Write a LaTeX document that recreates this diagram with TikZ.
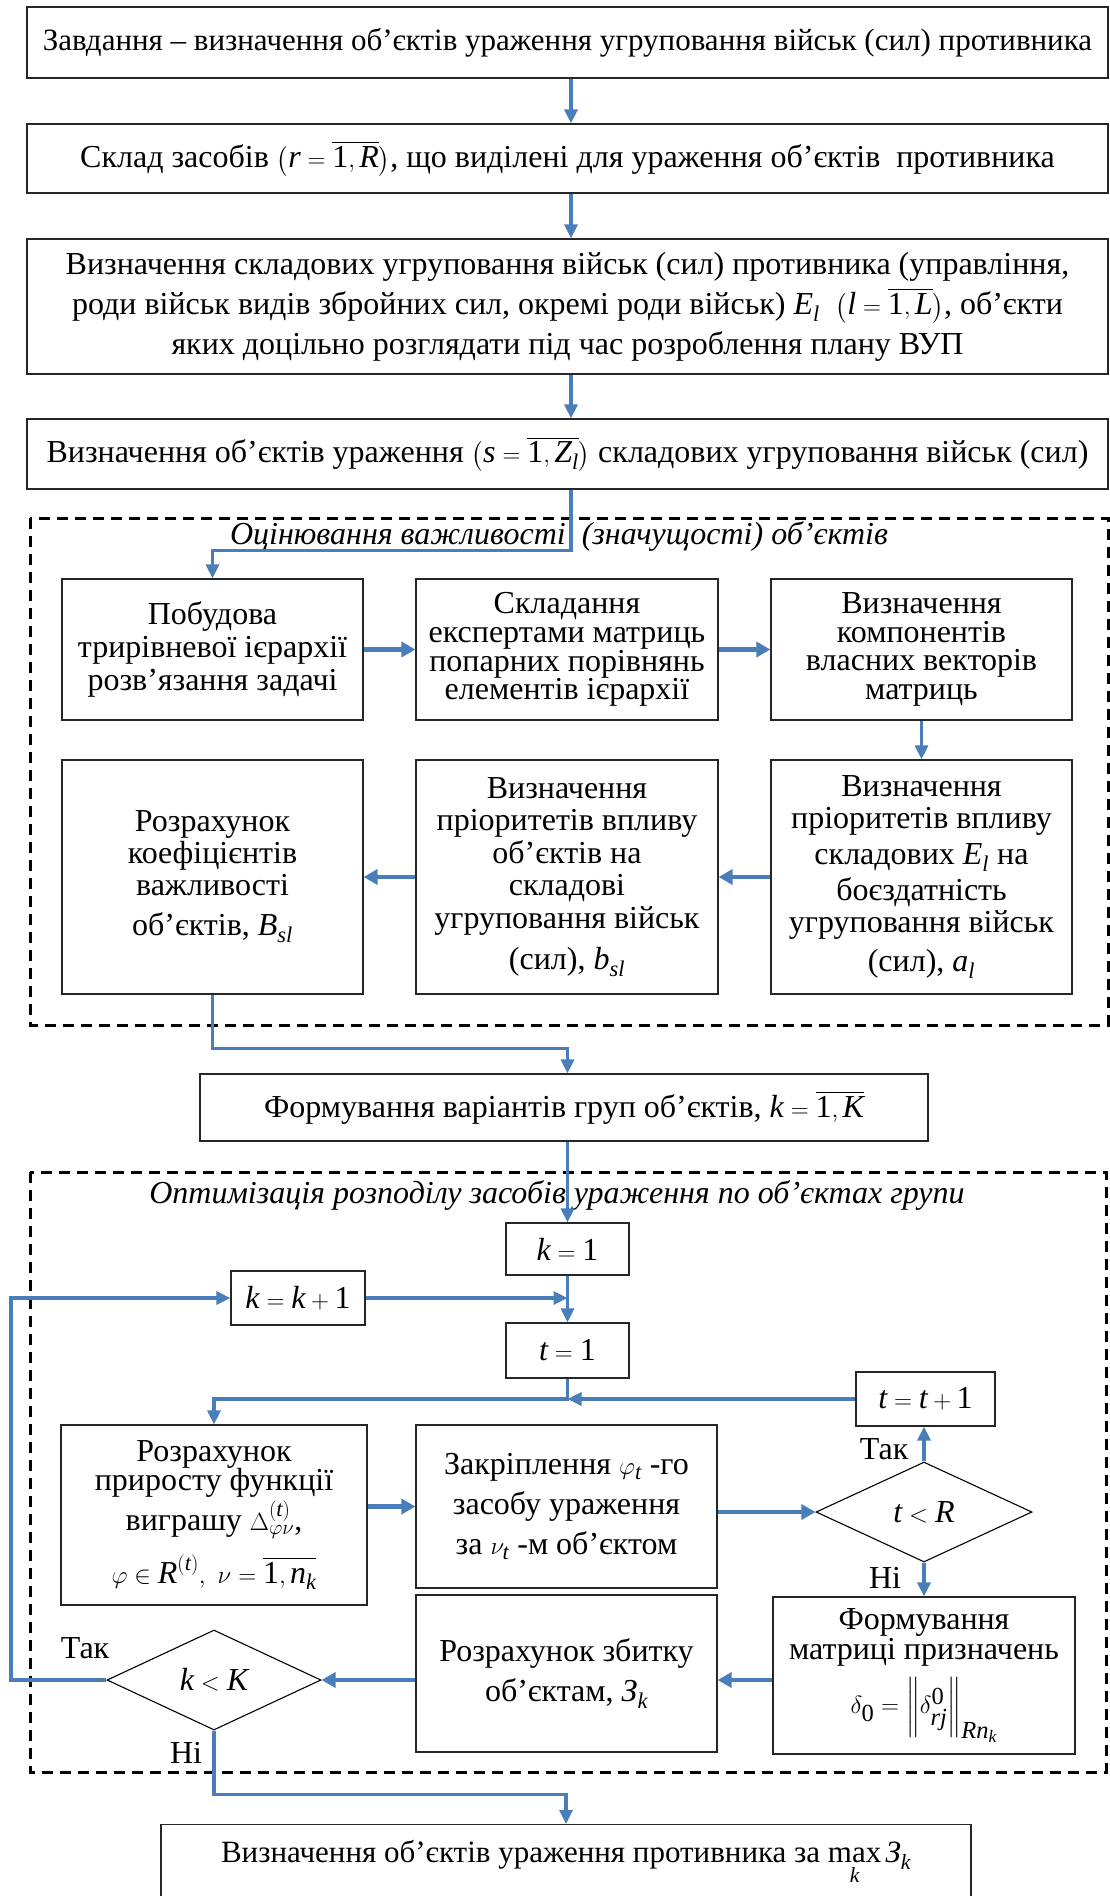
\documentclass[tikz,border=0pt]{standalone}
\usepackage{amsmath}
\usepackage{fontspec}
\setmainfont{Liberation Serif}
\usetikzlibrary{arrows.meta,shapes.geometric}
\definecolor{flow}{RGB}{74,126,187}
\newcommand{\vi}[1]{\textit{#1}}
\newcommand{\vu}[1]{\textup{#1}}
% font size and exact line pitch for node texts
\newcommand{\fsz}[2]{\fontsize{#1}{#2}\selectfont\lineskiplimit=-100pt\relax}
\begin{document}
\begin{tikzpicture}[x=1pt,y=-1pt,
  box/.style={draw=black!85,line width=1.2pt,align=center,inner sep=0pt,
    font=\fsz{32}{33}},
  dia/.style={draw=black,line width=1.1pt,diamond,inner sep=0pt,
    font=\fsz{32}{33}},
  lbl/.style={inner sep=0pt,font=\fsz{32}{33}},
  ttl/.style={inner sep=0pt,font=\fsz{32}{33}\itshape},
  arr/.style={draw=flow,line width=3.2pt,-{Triangle[length=14pt,width=13pt]}},
  arrthick/.style={draw=flow,line width=4.5pt,-{Triangle[length=14pt,width=15pt]}},
  frame/.style={draw=black,line width=3pt,dash pattern=on 11pt off 7pt}]
\useasboundingbox (0,0) rectangle (1110,1896);
\fill[white] (0,0) rectangle (1110,1896);

% upper chain of steps
\node[box,minimum width=1081pt,minimum height=71pt,font=\fsz{31}{33}] (b1) at (567.5,42.5)
  {Завдання – визначення об’єктів ураження угруповання військ (сил) противника};
\node[box,minimum width=1081pt,minimum height=69pt] (b2) at (567.5,158.5)
  {Склад засобів $\bigl(\vi{r}=\overline{\vu{1},\vi{R}}\bigr)$, що виділені для ураження об’єктів\ \ противника};
\node[box,minimum width=1081pt,minimum height=135pt,font=\fsz{32}{40}] (b3) at (567.5,306.5)
  {Визначення складових угруповання військ (сил) противника (управління,\\
   роди військ видів збройних сил, окремі роди військ) $\vi{E}_{\vi{l}}$\ \ $\bigl(\vi{l}=\overline{\vu{1},\vi{L}}\bigr)$, об’єкти\\
   яких доцільно розглядати під час розроблення плану ВУП};
\node[box,minimum width=1081pt,minimum height=70pt] (b4) at (567.5,454)
  {Визначення об’єктів ураження $\bigl(\vi{s}=\overline{\vu{1},\vi{Z}_{\vi{l}}}\bigr)$ складових угруповання військ (сил)};

% importance estimation block
\draw[frame] (30,518) rectangle (1108,1025);
\node[ttl] (t1ttl) at (559,536) {Оцінювання важливості\ \ (значущості) об’єктів};

\node[box,minimum width=301pt,minimum height=141pt,font=\fsz{32}{33}] (A1) at (212.5,649.5)
  {Побудова\\трирівневої ієрархії\\розв’язання задачі};
\node[box,minimum width=302pt,minimum height=141pt,font=\fsz{32}{28.7}] (B1) at (567,649.5)
  {Складання\\експертами матриць\\попарних порівнянь\\елементів ієрархії};
\node[box,minimum width=301pt,minimum height=141pt,font=\fsz{32}{28.7}] (C1) at (921.5,649.5)
  {Визначення\\компонентів\\власних векторів\\матриць};
\node[box,minimum width=301pt,minimum height=234pt,font=\fsz{32}{32}] (A2) at (212.5,877)
  {Розрахунок\\коефіцієнтів\\важливості\\[8pt]об’єктів, $\vi{B}_{\vi{sl}}$};
\node[box,minimum width=302pt,minimum height=234pt,font=\fsz{32}{32.5}] (B2) at (567,877)
  {Визначення\\пріоритетів впливу\\об’єктів на\\складові\\угруповання військ\\[9pt](сил), $\vi{b}_{\vi{sl}}$};
\node[box,minimum width=301pt,minimum height=234pt,font=\fsz{32}{32}] (C2) at (921.5,877)
  {Визначення\\пріоритетів впливу\\[4pt]складових $\vi{E}_{\vi{l}}$ на\\[4pt]боєздатність\\угруповання військ\\[7pt](сил), $\vi{a}_{\vi{l}}$};

\node[box,minimum width=728pt,minimum height=67pt] (F) at (564,1107.5)
  {Формування варіантів груп об’єктів, $\vi{k}=\overline{\vu{1},\vi{K}}$};

% optimisation block
\draw[frame] (30,1172) rectangle (1106,1772);
\node[ttl] (t2ttl) at (557,1195) {Оптимізація розподілу засобів ураження по об’єктах групи};

\node[box,minimum width=123pt,minimum height=52pt] (k1) at (567.5,1249) {$\vi{k}=\vu{1}$};
\node[box,minimum width=134pt,minimum height=54pt] (kk1) at (298,1298) {$\vi{k}=\vi{k}+\vu{1}$};
\node[box,minimum width=123pt,minimum height=55pt] (t1) at (567.5,1350.5) {$\vi{t}=\vu{1}$};
\node[box,minimum width=139pt,minimum height=54pt] (tt1) at (925.5,1399) {$\vi{t}=\vi{t}+\vu{1}$};

\node[box,minimum width=306pt,minimum height=180pt,font=\fsz{32}{29}] (D1) at (214,1515)
  {Розрахунок\\приросту функції\\[11pt]виграшу $\Delta^{(\vi{t})}_{\varphi\nu}$,\\[24pt]
   $\varphi\in\vi{R}^{(\vi{t})},\ \nu=\overline{\vu{1},\vi{n}_{\vi{k}}}$};
\node[box,minimum width=301pt,minimum height=163pt,font=\fsz{32}{40}] (D2) at (566.5,1506.5)
  {Закріплення $\varphi_{\vi{t}}$ -го\\засобу ураження\\за $\nu_{\vi{t}}$ -м об’єктом};
\node[dia,minimum width=216pt,minimum height=100pt] (tR) at (924,1512) {$\vi{t}<\vi{R}$};

\node[box,minimum width=302pt,minimum height=157pt,font=\fsz{32}{30}] (F2) at (924,1675.5)
  {Формування\\матриці призначень\\[24pt]
   \fontsize{35}{30}\selectfont$\delta_{\vu{0}}=\bigg\|\delta^{\vu{0}}_{\vi{rj}}\bigg\|_{\vi{Rn}_{\vi{k}}}$\rule[-20pt]{0pt}{1pt}};
\node[box,minimum width=301pt,minimum height=157pt,font=\fsz{32}{40}] (E2) at (566.5,1673.5)
  {Розрахунок збитку\\об’єктам, $\vi{З}_{\vi{k}}$};
\node[dia,minimum width=214pt,minimum height=100pt] (kK) at (214,1680) {$\vi{k}<\vi{K}$};

\node[box,minimum width=810pt,minimum height=80pt,anchor=north,font=\fsz{31}{33}] (last) at (566,1824)
  {Визначення об’єктів ураження противника за $\mathop{\text{max}}\limits_{\vi{k}}\vi{З}_{\vi{k}}$\rule[-26pt]{0pt}{1pt}};

\node[lbl] (yes1) at (884,1449) {Так};
\node[lbl] (no1) at (885,1578) {Ні};
\node[lbl] (yes2) at (85,1648) {Так};
\node[lbl] (no2) at (186,1753) {Ні};

% connectors
\coordinate (mx) at (571,0);
\coordinate (lx) at (11,0);
\draw[arr] (b1.south -| mx) -- (b2.north -| mx);
\draw[arr] (b2.south -| mx) -- (b3.north -| mx);
\draw[arr] (b3.south -| mx) -- (b4.north -| mx);
\draw[arr] (b4.south -| mx) -- ++(0,61) -| (A1.north);
\draw[arrthick] (A1.east) -- (B1.west);
\draw[arrthick] (B1.east) -- (C1.west);
\draw[arr] (C1.south) -- (C2.north);
\draw[arrthick] (C2.west) -- (B2.east);
\draw[arrthick] (B2.west) -- (A2.east);
\draw[arr] (A2.south) -- ++(0,54) -| (F.north -| k1.north);
\draw[arr] (k1.north |- F.south) -- (k1.north);
\draw[arr] (k1.south) -- (t1.north);
\draw[arr] (kk1.east) -- (kk1.east -| k1.south);
\draw[arr] (kK.west) -- (kK.west -| lx) |- (kk1.west);
\draw[arr] (t1.south) -- (t1.south |- tt1.west) -| (D1.north);
\draw[arr] (tt1.west) -- (tt1.west -| t1.south);
\draw[arr] (tR.north) -- (tR.north |- tt1.south);
\draw[arrthick] (D1.east |- D2.west) -- (D2.west);
\draw[arrthick] (D2.east |- tR.west) -- (tR.west);
\draw[arr] (tR.south) -- (F2.north);
\draw[arrthick] (F2.west |- kK.east) -- (E2.east |- kK.east);
\draw[arrthick] (E2.west |- kK.east) -- (kK.east);
\draw[arr] (kK.south) -- ++(0,64) -| (last.north);
\end{tikzpicture}
\end{document}
